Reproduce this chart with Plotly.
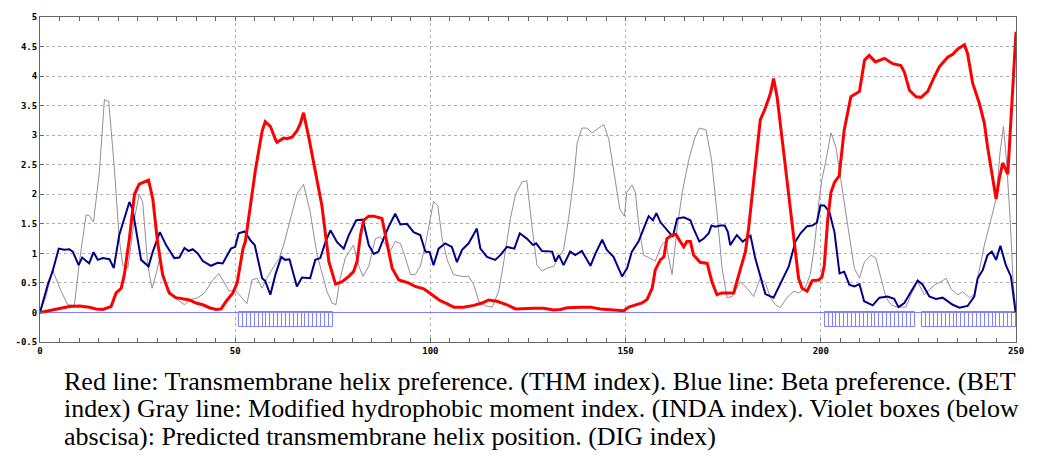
import plotly.graph_objects as go

# THM index (transmembrane helix preference)
thm_x = [0, 4.1, 7.5, 10.1, 12.6, 14.3, 16.1, 18.2, 19.5, 20.8, 21.6, 22.9, 24.2, 25.4, 27.8, 28.9, 30.1,
         31.4, 33.1, 34.8, 36.5, 38.3, 40, 41.7, 43.4, 45.1, 46.4, 47.7, 49.4, 50.5, 52, 52.6, 55.2, 56.9,
         57.7, 59, 60.3, 60.7, 62.4, 63.3, 64.6, 65.8, 66.7, 67.5, 68.8, 70.5, 72.2, 74, 75.7, 77.4, 79.1,
         80.3, 81.2, 82.1, 82.9, 84.2, 85.5, 87.6, 88.9, 90.2, 91.9, 93.2, 94.4, 96.1, 98.3, 100, 100.4,
         102.5, 104.2, 106, 108.5, 111.1, 113.2, 114.9, 117.1, 119.6, 121.8, 123.9, 126.5, 129, 131.6,
         133.3, 135, 138.4, 141, 143.5, 145.7, 147.8, 149.5, 150.8, 152.5, 154.2, 155.5, 156.8, 157.6,
         158.9, 159.8, 160.6, 161.9, 162.9, 164, 164.9, 165.7, 166.6, 167.4, 169.1, 170.9, 172.1, 173.4,
         174.7, 176.4, 177.7, 179, 180.7, 181.5, 182.8, 184.5, 185.8, 187.1, 187.9, 188.8, 190.1, 191.8,
         193.1, 194.3, 195.2, 196.5, 197.8, 199.5, 200.3, 200.9, 201.8, 202.6, 203.5, 204.7, 206, 207.7,
         209.9, 211.2, 212.4, 214, 216.3, 218.4, 220.5, 221.4, 222.7, 224.4, 225.7, 227.4, 229.1, 230.4,
         232.5, 233.8, 235.1, 236.8, 237.6, 238.9, 240.6, 241.9, 242.7, 244, 244.9, 245.7, 246.6, 247.9,
         248.7, 249.6, 250]
thm_y = [0, 0.05, 0.1, 0.11, 0.09, 0.06, 0.05, 0.1, 0.33, 0.41, 0.64, 1.25, 2.0, 2.17, 2.24, 1.92, 1.2,
         0.64, 0.33, 0.25, 0.23, 0.21, 0.16, 0.13, 0.08, 0.05, 0.06, 0.19, 0.33, 0.5, 1.08, 1.2, 2.42, 3.07,
         3.23, 3.15, 2.93, 2.88, 2.95, 2.94, 2.97, 3.07, 3.2, 3.38, 2.98, 2.42, 1.81, 0.86, 0.48, 0.52, 0.61,
         0.69, 0.86, 1.31, 1.56, 1.63, 1.63, 1.59, 1.14, 0.75, 0.55, 0.52, 0.5, 0.44, 0.4, 0.32, 0.3,
         0.2, 0.15, 0.09, 0.09, 0.12, 0.16, 0.21, 0.19, 0.13, 0.06, 0.07, 0.07, 0.07, 0.04,
         0.05, 0.08, 0.09, 0.09, 0.06, 0.05, 0.03, 0.03, 0.09, 0.12, 0.16, 0.22, 0.41, 0.72,
         0.89, 0.94, 1.25, 1.31, 1.32, 1.2, 1.11, 1.2, 1.2, 0.97, 0.85, 0.83, 0.52, 0.3,
         0.33, 0.33, 0.33, 0.64, 1.03, 1.42, 2.26, 3.26, 3.46, 3.71, 3.96, 3.65, 2.93, 1.98,
         1.25, 0.58, 0.41, 0.36, 0.54, 0.55, 0.6, 0.8, 1.59, 2.03, 2.2, 2.31, 3.09, 3.65,
         3.74, 4.27, 4.35, 4.24, 4.3, 4.21, 4.18, 4.07, 3.76, 3.65, 3.64, 3.74, 3.99, 4.16,
         4.32, 4.37, 4.46, 4.53, 4.38, 3.88, 3.54, 3.2, 2.81, 2.26, 1.92, 2.26, 2.53, 2.34,
         3.26, 4.49, 4.75]

# BET index (beta preference)
bet_x = [0, 2, 3.2, 4.8, 6.2, 7.5, 8.4, 9.9, 10.8, 12.6, 13.7, 14.8, 16.1, 17.8, 18.9, 20.3, 21.6, 22.9,
         23.7, 25.9, 27.8, 28.9, 30.7, 32.3, 34.4, 35.7, 37, 38.1, 39.1, 40.4, 41.7, 43.8, 45.5, 46.8,
         48.9, 50, 50.9, 52.4, 53.9, 55, 56.9, 57.7, 59, 60.3, 61.8, 62.8, 63.9, 65.8, 67.1, 69.2, 70.5,
         71.8, 73.1, 74.4, 76.1, 77.8, 79.1, 81, 82.7, 84.2, 85.5, 86.7, 88, 89.3, 91, 92.3, 94, 95.7,
         97.4, 98.7, 99.8, 100.8, 102.1, 103.8, 105.5, 106.8, 108.1, 109.8, 111.9, 112.8, 114.5, 116.6,
         117.9, 119.6, 121.5, 122.9, 124.7, 126.3, 127.1, 128.6, 131.2, 132, 132.9, 134.1, 135.8, 137.1,
         138.8, 141, 142.3, 144, 145.2, 146.9, 149.1, 150.4, 151.6, 153.3, 155.1, 155.9, 157, 157.9,
         158.9, 160.6, 162.1, 163.2, 164.9, 166.6, 167.4, 168.9, 170, 171.3, 172, 173, 174.3, 175.4,
         176.2, 176.8, 178.5, 180, 182, 183.2, 185.8, 187.9, 189.6, 191.8, 193.5, 194.8, 196.5, 197.8,
         199, 199.9, 200.9, 202.2, 203.5, 204.8, 206, 207.3, 208.6, 209.9, 211.1, 213.3, 215, 217.1,
         218.8, 219.9, 221.4, 223.5, 224.8, 226.1, 227.8, 229.5, 231.2, 233.8, 235.5, 237.6, 239.3,
         240.2, 241.5, 242.7, 243.8, 244.9, 246, 247.4, 248.7, 249.8, 250]
bet_y = [0, 0.47, 0.69, 1.08, 1.06, 1.07, 1.03, 0.8, 0.93, 0.83, 1.02, 0.89, 0.92, 0.9, 0.75, 1.31, 1.59,
         1.87, 1.75, 0.89, 0.78, 1.03, 1.36, 1.14, 0.92, 0.93, 1.09, 1.04, 1.07, 1.0, 0.87, 0.79, 0.84,
         0.83, 1.08, 1.11, 1.34, 1.37, 1.22, 1.14, 0.58, 0.53, 0.3, 0.64, 0.94, 0.89, 0.9, 0.44, 0.59,
         0.58, 0.89, 0.92, 1.19, 1.39, 1.19, 1.08, 1.31, 1.56, 1.57, 1.14, 0.99, 1.03, 1.25, 1.45, 1.67,
         1.49, 1.5, 1.36, 1.31, 1.03, 1.02, 0.8, 1.08, 1.17, 1.11, 0.85, 1.06, 1.17, 1.42, 1.08, 0.94,
         0.89, 0.97, 1.11, 1.08, 1.34, 1.25, 1.14, 1.17, 1.04, 1.03, 0.86, 0.97, 0.8, 1.03, 0.97, 1.04,
         0.79, 1.0, 1.23, 1.06, 0.94, 0.61, 0.75, 1.03, 1.2, 1.5, 1.63, 1.56, 1.68, 1.53, 1.39, 1.28,
         1.59, 1.61, 1.56, 1.42, 1.2, 1.25, 1.34, 1.47, 1.45, 1.47, 1.47, 1.36, 1.14, 1.31, 1.2, 1.3,
         0.92, 0.31, 0.25, 0.47, 0.78, 1.2, 1.34, 1.46, 1.47, 1.52, 1.81, 1.81, 1.7, 1.36, 0.66, 0.69,
         0.47, 0.44, 0.48, 0.19, 0.12, 0.25, 0.27, 0.23, 0.09, 0.16, 0.41, 0.54, 0.47, 0.27, 0.23, 0.25,
         0.13, 0.08, 0.11, 0.27, 0.58, 0.72, 0.97, 1.03, 0.89, 1.13, 0.8, 0.61, 0.05, 0]

# INDA index (modified hydrophobic moment)
inda_x = [0, 1.5, 3.2, 5.4, 7.1, 8.8, 10.1, 11.8, 12.6, 13.7, 15.2, 16.5, 17.6, 19, 20.3, 21.2, 22.5,
          24.2, 25.4, 26.3, 27.6, 28.7, 29.7, 30.7, 32.3, 34, 35.7, 37, 38.7, 40.4, 42.1, 44.2, 45.8,
          47.2, 48.5, 50, 51.7, 53, 54.3, 55.6, 56.9, 58.1, 59.9, 61.1, 62.4, 64.1, 65.8, 67.5, 69.2, 71,
          72.2, 73.5, 74.8, 75.8, 76.9, 78.2, 79.2, 80.3, 81.6, 82.7, 84.2, 85.9, 87.2, 88.5, 89.7, 91,
          92.3, 93.6, 94.9, 96.1, 97.4, 98.7, 100, 100.8, 101.9, 103, 104.3, 105.9, 108.1, 109.8, 111.1,
          112.4, 114.1, 115.8, 117.5, 118.8, 120.5, 121.8, 123.5, 124.7, 126, 127.3, 128.6, 129.9, 131.6,
          132.9, 134.1, 135.4, 136.7, 137.6, 138.8, 140.1, 141.4, 143.1, 144.4, 145.7, 147, 148.5, 149.7,
          150.3, 151.6, 152.5, 153.4, 154.6, 155.9, 157.6, 159.2, 160.2, 161.9, 163.2, 164.5, 166.2,
          167.7, 168.9, 170.6, 172, 173.4, 174.7, 176, 177.3, 179.4, 181.1, 182.8, 184.5, 185.8, 187.1,
          188.4, 189.6, 191.3, 193.1, 194.3, 196, 197.3, 198.4, 199.5, 200.3, 201.2, 202.6, 203.9, 205.2,
          206.9, 208.6, 209.9, 211.2, 212.9, 214.1, 215.4, 216.7, 218.2, 219.7, 221.8, 223.1, 224.8,
          226.5, 227.8, 229.5, 230.8, 232.1, 233.4, 235.1, 236.3, 238.1, 239.3, 240.6, 241.9, 243.2,
          244.9, 245.9, 246.8, 247.6, 248.5, 249.3, 250]
inda_y = [0, 0.27, 0.72, 0.36, 0.13, 0.12, 0.86, 1.65, 1.64, 1.53, 2.37, 3.6, 3.57, 2.48, 1.25, 0.8, 0.75,
          1.59, 2.0, 1.87, 0.8, 0.41, 0.64, 0.92, 0.47, 0.27, 0.19, 0.13, 0.22, 0.25, 0.33, 0.54, 0.66,
          0.5, 0.36, 0.38, 0.25, 0.15, 0.55, 0.58, 0.41, 0.58, 0.78, 0.89, 1.14, 1.59, 2.0, 2.17, 1.7, 0.97,
          0.69, 0.36, 0.16, 0.13, 0.58, 0.92, 1.03, 1.14, 0.8, 0.61, 0.78, 1.25, 1.28, 1.14, 1.03, 1.2,
          1.17, 0.92, 0.64, 0.64, 0.78, 1.14, 1.59, 1.88, 1.81, 1.25, 0.89, 0.64, 0.61, 0.61, 0.47,
          0.19, 0.11, 0.09, 0.36, 0.86, 1.59, 2.0, 2.21, 2.23, 1.47, 0.8, 0.7, 0.75, 0.78,
          0.94, 1.06, 1.59, 2.26, 2.87, 3.12, 3.12, 3.04, 3.12, 3.18, 2.93, 2.37, 1.75, 1.63,
          2.03, 2.16, 2.03, 1.47, 0.97, 0.93, 0.87, 1.14, 1.2, 0.64, 1.42, 2.03, 2.59,
          2.95, 3.12, 3.09, 2.59, 1.7, 0.75, 0.25, 0.27, 0.52, 0.41, 0.27, 0.58, 0.5, 0.25,
          0.13, 0.08, 0.25, 0.36, 0.33, 0.41, 0.64, 1.14, 1.87, 2.26, 2.53, 3.04, 2.79, 2.2,
          1.47, 0.75, 0.58, 0.86, 0.97, 0.92, 0.58, 0.25, 0.12, 0.09, 0.09, 0.3, 0.52,
          0.3, 0.39, 0.48, 0.52, 0.58, 0.39, 0.3, 0.35, 0.25, 0.3, 0.75, 1.14, 1.47,
          1.92, 2.7, 3.15, 2.53, 1.59, 0.47, 0.02]

# DIG index: predicted transmembrane helix segments (start, end residue)
dig_segments = [(51, 75), (201, 224), (226, 250)]
dig_depth = -0.25

x_ticks = [0, 50, 100, 150, 200, 250]
y_ticks = [-0.5, 0, 0.5, 1, 1.5, 2, 2.5, 3, 3.5, 4, 4.5, 5]
y_tick_text = ["-0.5", "0", "0.5", "1", "1.5", "2", "2.5", "3", "3.5", "4", "4.5", "5"]

caption_lines = [
    "Red line: Transmembrane helix preference. (THM index). Blue line: Beta preference. (BET",
    "index) Gray line: Modified hydrophobic moment index. (INDA index). Violet boxes (below",
    "abscisa): Predicted transmembrane helix position. (DIG index)",
]

VIOLET = "#8080ff"

fig = go.Figure()

# one hatched cell per residue inside each predicted helix
dig_x = [r + 0.5 for s, e in dig_segments for r in range(s, e)]
fig.add_trace(go.Bar(
    x=dig_x, y=[dig_depth] * len(dig_x), base=0, width=1,
    marker=dict(color="rgba(255,255,255,0)", line=dict(color=VIOLET, width=1)),
    hoverinfo="skip", showlegend=False,
))
fig.add_trace(go.Scatter(x=inda_x, y=inda_y, mode="lines",
                         line=dict(color="#9a8a9c", width=1), showlegend=False))
fig.add_trace(go.Scatter(x=bet_x, y=bet_y, mode="lines",
                         line=dict(color="#000088", width=2), showlegend=False))
fig.add_trace(go.Scatter(x=thm_x, y=thm_y, mode="lines",
                         line=dict(color="#ff0000", width=3), showlegend=False))

tick_font = dict(family="DejaVu Sans Mono", size=9, color="#000000", weight="bold")

fig.update_layout(
    width=1052, height=456,
    margin=dict(l=40, r=36, t=13, b=114),
    paper_bgcolor="white", plot_bgcolor="white",
    barmode="overlay", bargap=0,
    xaxis=dict(
        range=[0, 250], tickvals=x_ticks, ticks="inside", ticklen=4, tickcolor="#666666",
        showline=True, linecolor="#666666", linewidth=1, mirror="ticks",
        showgrid=True, gridcolor="#b0b0b0", griddash="dot", gridwidth=1,
        zeroline=False, tickfont=tick_font,
        minor=dict(dtick=5, ticks="inside", ticklen=4, tickcolor="#666666", showgrid=False),
    ),
    yaxis=dict(
        range=[-0.5, 5], tickvals=y_ticks, ticktext=y_tick_text, ticks="inside", ticklen=4,
        tickcolor="#666666", showline=True, linecolor="#666666", linewidth=1, mirror="ticks",
        showgrid=True, gridcolor="#b0b0b0", griddash="dot", gridwidth=1,
        zeroline=True, zerolinecolor=VIOLET, zerolinewidth=1, tickfont=tick_font,
    ),
)

for i, line in enumerate(caption_lines):
    fig.add_annotation(
        text=line, xref="paper", yref="paper", x=0.0225, y=-0.12 - i * 0.085,
        xanchor="left", yanchor="middle", showarrow=False, align="left",
        font=dict(family="Liberation Serif", size=26, color="#000000"),
    )

fig.write_html("out.html")
